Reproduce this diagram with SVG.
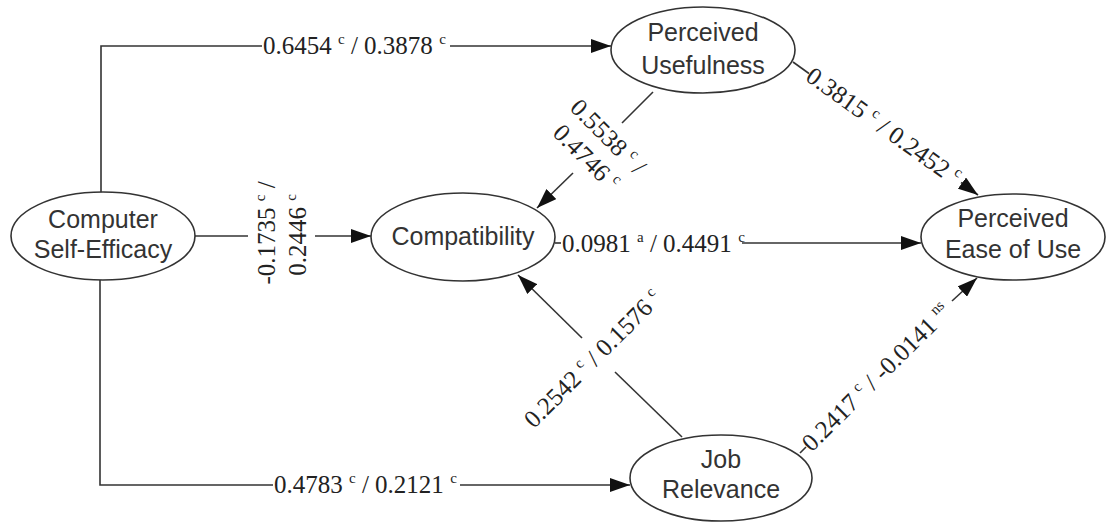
<svg xmlns="http://www.w3.org/2000/svg" width="1107" height="522" viewBox="0 0 1107 522">
  <defs>
    <marker id="arrow" markerUnits="userSpaceOnUse" markerWidth="20" markerHeight="14" refX="20" refY="7" orient="auto">
      <path d="M0,0 L20,7 L0,14 Z" fill="#111"/>
    </marker>
    <style>
      .node ellipse { fill: #fff; stroke: #333; stroke-width: 1.6; }
      .node text { font-family: "Liberation Sans", Arial, sans-serif; font-size: 25px; fill: #333; text-anchor: middle; }
      .edges path { fill: none; stroke: #333; stroke-width: 1.6; }
      .edges path.head { marker-end: url(#arrow); }
      .lbl { font-family: "Liberation Serif", "Times New Roman", serif; font-size: 25px; fill: #222; }
      .mid { text-anchor: middle; }
      .s { font-size: 15px; }
    </style>
  </defs>

  <rect width="1107" height="522" fill="#fff"/>

  <!-- connectors -->
  <g id="connectors" class="edges">
    <!-- Computer Self-Efficacy -> Perceived Usefulness -->
    <path d="M101,193 V46 H262"/>
    <path class="head" d="M450,46 H611"/>
    <!-- Computer Self-Efficacy -> Job Relevance -->
    <path d="M100,280 V485 H273"/>
    <path class="head" d="M460,485 H630"/>
    <!-- Computer Self-Efficacy -> Compatibility -->
    <path d="M195,236 H248"/>
    <path class="head" d="M315,236 H371"/>
    <!-- Perceived Usefulness -> Compatibility -->
    <path d="M653,92 L622,123"/>
    <path class="head" d="M573,173 L537,208"/>
    <!-- Compatibility -> Perceived Ease of Use -->
    <path d="M555,243 H561"/>
    <path class="head" d="M742,243 H921"/>
    <!-- Perceived Usefulness -> Perceived Ease of Use -->
    <path d="M793,62 L809,73.5"/>
    <path class="head" d="M961,182.5 L978,195"/>
    <!-- Job Relevance -> Compatibility -->
    <path d="M682,437 L615,372"/>
    <path class="head" d="M582,338 L518,275"/>
    <!-- Job Relevance -> Perceived Ease of Use -->
    <path d="M800,453 L806,447"/>
    <path class="head" d="M952,301 L977,278"/>

    <!-- path coefficients -->
    <text class="lbl" x="263" y="54">0.6454 <tspan class="s" dy="-10">c</tspan><tspan dy="10"> / 0.3878 </tspan><tspan class="s" dy="-10">c</tspan></text>
    <text class="lbl" x="274" y="493">0.4783 <tspan class="s" dy="-10">c</tspan><tspan dy="10"> / 0.2121 </tspan><tspan class="s" dy="-10">c</tspan></text>
    <text class="lbl" x="562" y="252">0.0981 <tspan class="s" dy="-10">a</tspan><tspan dy="10"> / 0.4491 </tspan><tspan class="s" dy="-10">c</tspan></text>

    <g transform="translate(267,233) rotate(-90)">
      <text class="lbl mid" x="0" y="8">-0.1735 <tspan class="s" dy="-10">c</tspan><tspan dy="10"> /</tspan></text>
      <text class="lbl mid" x="-2" y="39">0.2446 <tspan class="s" dy="-10">c</tspan></text>
    </g>
    <g transform="translate(608,137) rotate(45)">
      <text class="lbl mid" x="0" y="8">0.5538 <tspan class="s" dy="-10">c</tspan><tspan dy="10"> /</tspan></text>
      <text class="lbl mid" x="-1" y="38">0.4746 <tspan class="s" dy="-10">c</tspan></text>
    </g>
    <g transform="translate(809,73) rotate(35.7)">
      <text class="lbl" x="0" y="8">0.3815 <tspan class="s" dy="-10">c</tspan><tspan dy="10"> / 0.2452 </tspan><tspan class="s" dy="-10">c</tspan></text>
    </g>
    <g transform="translate(593,359) rotate(-45)">
      <text class="lbl mid" x="0" y="8">0.2542 <tspan class="s" dy="-10">c</tspan><tspan dy="10"> / 0.1576 </tspan><tspan class="s" dy="-10">c</tspan></text>
    </g>
    <g transform="translate(806,447) rotate(-44.7)">
      <text class="lbl" x="0" y="8">0.2417 <tspan class="s" dy="-10">c</tspan><tspan dy="10"> / -0.0141 </tspan><tspan class="s" dy="-10">ns</tspan></text>
    </g>
  </g>

  <!-- constructs -->
  <g id="computer-self-efficacy" class="node">
    <ellipse cx="103" cy="236" rx="92" ry="44"/>
    <text x="103" y="228">Computer</text>
    <text x="103" y="258">Self-Efficacy</text>
  </g>
  <g id="perceived-usefulness" class="node">
    <ellipse cx="703" cy="50" rx="92" ry="43"/>
    <text x="703" y="41">Perceived</text>
    <text x="703" y="74">Usefulness</text>
  </g>
  <g id="compatibility" class="node">
    <ellipse cx="463" cy="237" rx="92" ry="44"/>
    <text x="463" y="245">Compatibility</text>
  </g>
  <g id="perceived-ease-of-use" class="node">
    <ellipse cx="1013" cy="237" rx="92" ry="43"/>
    <text x="1013" y="227">Perceived</text>
    <text x="1013" y="258">Ease of Use</text>
  </g>
  <g id="job-relevance" class="node">
    <ellipse cx="721" cy="478" rx="91" ry="43"/>
    <text x="721" y="468">Job</text>
    <text x="721" y="498">Relevance</text>
  </g>
</svg>
